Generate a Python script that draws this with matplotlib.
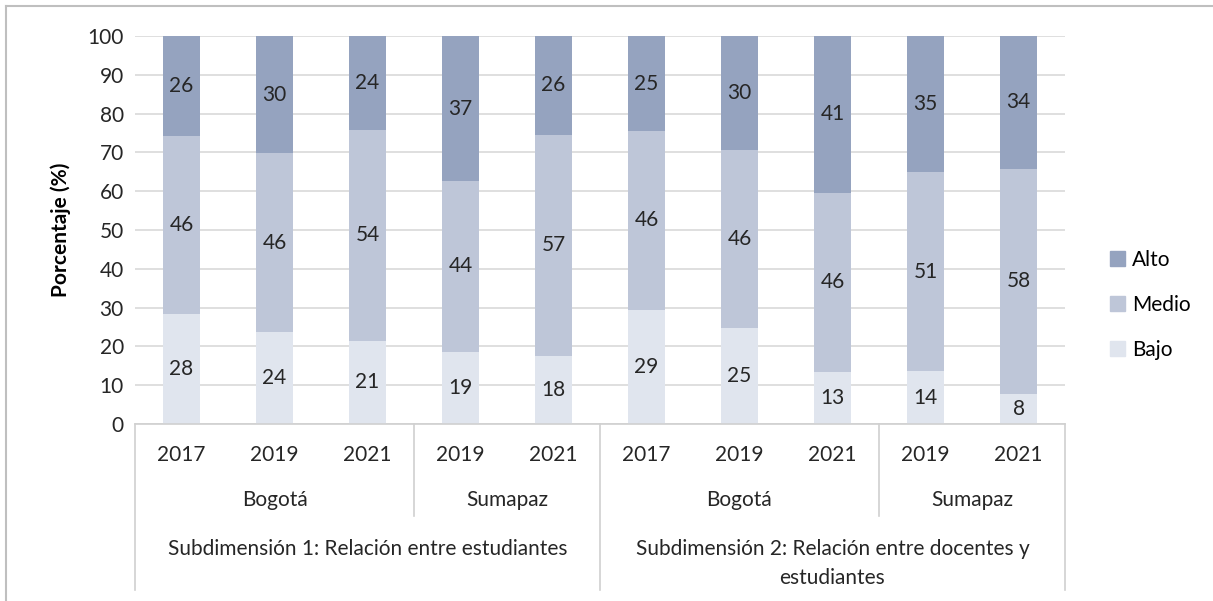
import matplotlib.pyplot as plt
import numpy as np
from matplotlib.lines import Line2D
from matplotlib.patches import Patch

plt.rcParams['font.family'] = ['Lato', 'DejaVu Sans']

years = ['2017', '2019', '2021', '2019', '2021', '2017', '2019', '2021', '2019', '2021']
places = ['Bogotá', 'Sumapaz', 'Bogotá', 'Sumapaz']
place_sizes = [3, 2, 3, 2]
subdims = ['Subdimensión 1: Relación entre estudiantes',
           'Subdimensión 2: Relación entre docentes y\nestudiantes']
subdim_sizes = [5, 5]

bajo = [28.4, 23.7, 21.4, 18.6, 17.6, 29.4, 24.8, 13.4, 13.6, 7.7]
medio = [45.9, 46.1, 54.4, 44.0, 57.0, 46.1, 45.7, 46.2, 51.3, 58.1]
alto = [25.7, 30.2, 24.2, 37.4, 25.6, 24.5, 29.6, 40.6, 35.1, 34.2]
bajo_lbl = [28, 24, 21, 19, 18, 29, 25, 13, 14, 8]
medio_lbl = [46, 46, 54, 44, 57, 46, 46, 46, 51, 58]
alto_lbl = [26, 30, 24, 37, 26, 25, 30, 41, 35, 34]

c_alto = '#95a3bf'
c_medio = '#bec6d8'
c_bajo = '#e0e5ee'

fs = 15
tc = '#262626'

fig = plt.figure(figsize=(12.13, 6.01), dpi=100)
ax = fig.add_axes([135 / 1213, 1 - 424 / 601, 930 / 1213, 388 / 601])

x = np.arange(len(years))
w = 0.4
b = np.array(bajo)
m = np.array(medio)
a = np.array(alto)
ax.bar(x, b, w, color=c_bajo, zorder=2)
ax.bar(x, m, w, bottom=b, color=c_medio, zorder=2)
ax.bar(x, a, w, bottom=b + m, color=c_alto, zorder=2)

for i in range(len(x)):
    ax.text(x[i], b[i] / 2, str(bajo_lbl[i]), ha='center', va='center', fontsize=fs, color=tc, zorder=3)
    ax.text(x[i], b[i] + m[i] / 2, str(medio_lbl[i]), ha='center', va='center', fontsize=fs, color=tc, zorder=3)
    ax.text(x[i], b[i] + m[i] + a[i] / 2, str(alto_lbl[i]), ha='center', va='center', fontsize=fs, color=tc, zorder=3)

ax.set_xlim(-0.5, len(x) - 0.5)
ax.set_ylim(0, 100)
ax.set_yticks(range(0, 101, 10))
ax.tick_params(axis='y', length=0, labelsize=fs, pad=8, colors=tc)
ax.set_xticks([])
ax.yaxis.grid(True, color='#d9d9d9', linewidth=1.2, zorder=0)
for s in ['top', 'right', 'left']:
    ax.spines[s].set_visible(False)
ax.spines['bottom'].set_color('#d0d0d0')
ax.spines['bottom'].set_linewidth(1.2)
ax.set_ylabel('Porcentaje (%)', fontsize=15, fontweight='bold', labelpad=12, color='black')

# multi level category axis
tr = ax.get_xaxis_transform()
px = 1 / 388
for i in range(len(x)):
    ax.text(x[i], -31 * px, years[i], transform=tr, ha='center', va='center', fontsize=fs, color=tc)

pos = 0
for name, n in zip(places, place_sizes):
    ax.text(pos + (n - 1) / 2, -76 * px, name, transform=tr, ha='center', va='center', fontsize=fs, color=tc)
    pos += n

pos = 0
for name, n in zip(subdims, subdim_sizes):
    ax.text(pos + (n - 1) / 2, -115 * px, name, transform=tr, ha='center', va='top', fontsize=fs,
            color=tc, linespacing=1.55)
    pos += n

lc = '#d0d0d0'
bounds = [-0.5]
for n in place_sizes:
    bounds.append(bounds[-1] + n)
big = [-0.5, 4.5, 9.5]
for xb in bounds:
    low = -166 * px if xb in big else -92 * px
    ax.add_line(Line2D([xb, xb], [0, low], transform=tr, color=lc, linewidth=1.2, clip_on=False))

handles = [Patch(color=c_alto), Patch(color=c_medio), Patch(color=c_bajo)]
fig.legend(handles, ['Alto', 'Medio', 'Bajo'], loc='center left', bbox_to_anchor=(1091 / 1213, 1 - 305 / 601),
           frameon=False, fontsize=fs, handlelength=0.75, handleheight=0.75, handletextpad=0.3, labelspacing=1.2)

# chart border
fig.add_artist(Line2D([6 / 1213, 1], [1 - 6 / 601, 1 - 6 / 601], transform=fig.transFigure, color='#bfbfbf', linewidth=1.5))
fig.add_artist(Line2D([6 / 1213, 6 / 1213], [0, 1 - 6 / 601], transform=fig.transFigure, color='#bfbfbf', linewidth=1.5))

fig.savefig('out.png', dpi=100)
